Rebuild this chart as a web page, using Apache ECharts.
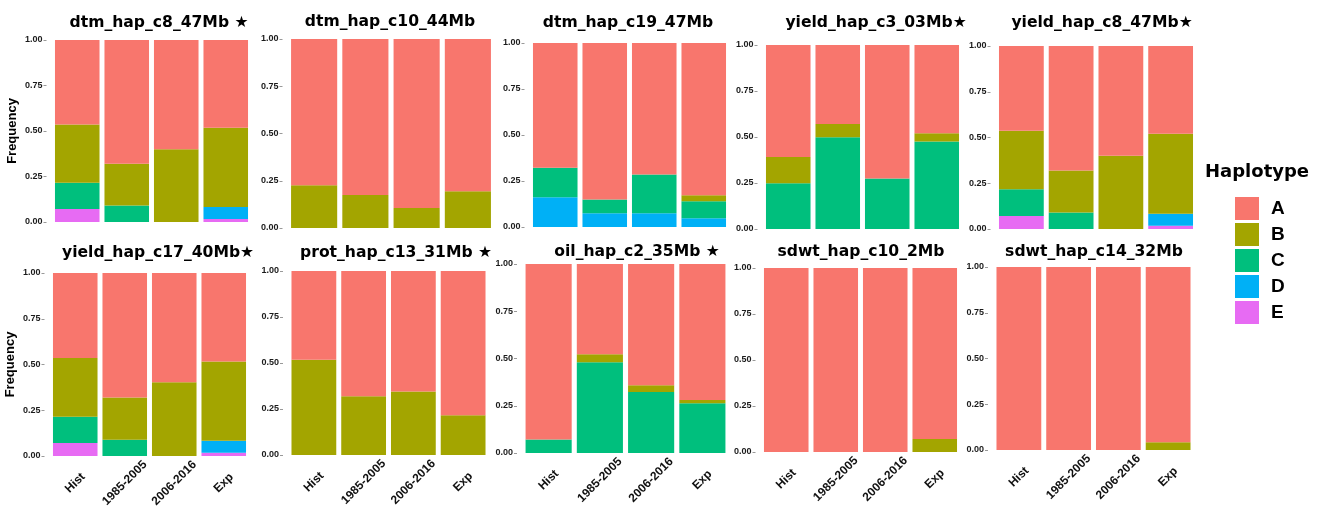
<!DOCTYPE html>
<html>
<head>
<meta charset="utf-8">
<script src="https://cdn.jsdelivr.net/npm/echarts@6/dist/echarts.min.js"></script>
<style>
  html, body { margin: 0; padding: 0; background: #fff; }
  #chart { width: 1322px; height: 513px; }
</style>
</head>
<body>
<div id="chart"></div>
<script>
const categories = ['Hist', '1985-2005', '2006-2016', 'Exp'];
const haplotypes = ['A', 'B', 'C', 'D', 'E'];
const hapColors = ['#F8766D', '#A3A500', '#00BF7D', '#00B0F6', '#E76BF3'];
const yTicks = [0, 0.25, 0.5, 0.75, 1];

const titles = [
    'dtm_hap_c8_47Mb ★', 'dtm_hap_c10_44Mb', 'dtm_hap_c19_47Mb', 'yield_hap_c3_03Mb★', 'yield_hap_c8_47Mb★',
    'yield_hap_c17_40Mb★', 'prot_hap_c13_31Mb ★', 'oil_hap_c2_35Mb ★', 'sdwt_hap_c10_2Mb', 'sdwt_hap_c14_32Mb'
];

// haplotype frequencies per panel (Hist, 1985-2005, 2006-2016, Exp)
const dtmC8 = {
    A: [0.464, 0.68, 0.60, 0.482], B: [0.32, 0.23, 0.40, 0.435], C: [0.145, 0.09, 0, 0],
    D: [0, 0, 0, 0.066], E: [0.071, 0, 0, 0.017]
};
const dtmC10 = {
    A: [0.774, 0.825, 0.894, 0.806], B: [0.226, 0.175, 0.106, 0.194], C: [0, 0, 0, 0],
    D: [0, 0, 0, 0], E: [0, 0, 0, 0]
};
const dtmC19 = {
    A: [0.678, 0.851, 0.715, 0.827], B: [0, 0, 0, 0.033], C: [0.16, 0.074, 0.21, 0.093],
    D: [0.162, 0.075, 0.075, 0.047], E: [0, 0, 0, 0]
};
const yieldC3 = {
    A: [0.609, 0.429, 0.725, 0.48], B: [0.142, 0.073, 0, 0.044], C: [0.249, 0.498, 0.275, 0.476],
    D: [0, 0, 0, 0], E: [0, 0, 0, 0]
};
const yieldC8 = {
    A: [0.463, 0.68, 0.60, 0.48], B: [0.32, 0.23, 0.40, 0.436], C: [0.146, 0.09, 0, 0],
    D: [0, 0, 0, 0.066], E: [0.071, 0, 0, 0.018]
};
const yieldC17 = {
    A: [0.465, 0.681, 0.597, 0.484], B: [0.32, 0.23, 0.403, 0.432], C: [0.144, 0.089, 0, 0],
    D: [0, 0, 0, 0.066], E: [0.071, 0, 0, 0.018]
};
const protC13 = {
    A: [0.483, 0.681, 0.655, 0.784], B: [0.517, 0.319, 0.345, 0.216], C: [0, 0, 0, 0],
    D: [0, 0, 0, 0], E: [0, 0, 0, 0]
};
const oilC2 = {
    A: [0.929, 0.478, 0.642, 0.72], B: [0, 0.042, 0.035, 0.017], C: [0.071, 0.48, 0.323, 0.263],
    D: [0, 0, 0, 0], E: [0, 0, 0, 0]
};
const sdwtC10 = {
    A: [1, 1, 1, 0.929], B: [0, 0, 0, 0.071], C: [0, 0, 0, 0],
    D: [0, 0, 0, 0], E: [0, 0, 0, 0]
};
const sdwtC14 = {
    A: [1, 1, 1, 0.958], B: [0, 0, 0, 0.042], C: [0, 0, 0, 0],
    D: [0, 0, 0, 0], E: [0, 0, 0, 0]
};
const panels = [dtmC8, dtmC10, dtmC19, yieldC3, yieldC8, yieldC17, protC13, oilC2, sdwtC10, sdwtC14];

// plot rectangles [left, top, width, height] and title centres
const rects = [
    [52.5, 40, 198, 182], [288.5, 39, 205, 189], [530.5, 43, 198, 184], [763.5, 45, 198, 184], [996.5, 46, 199, 183],
    [50.5, 273, 198, 183], [289, 271, 199, 184], [523, 264, 205, 189], [761.5, 268, 198, 184], [994, 267, 199, 183]
];
const titlePos = [
    [159, 23], [390, 22], [628, 23], [876, 23], [1102, 23],
    [158, 253], [396, 253], [637, 252], [861, 252], [1094, 252]
];

document.addEventListener('DOMContentLoaded', function() {
    const myChart = echarts.init(document.getElementById('chart'));

    const grid = [], xAxis = [], yAxis = [], series = [], graphic = [];
    panels.forEach(function(panel, p) {
        const r = rects[p];
        const bottomRow = p >= 5;
        grid.push({ left: r[0], top: r[1], width: r[2], height: r[3], containLabel: false });
        xAxis.push({
            type: 'category',
            gridIndex: p,
            data: categories,
            axisLine: { show: false },
            axisTick: { show: false },
            axisLabel: {
                show: bottomRow,
                interval: 0,
                rotate: 45,
                align: 'center',
                verticalAlign: 'middle',
                margin: 27,
                fontFamily: 'Liberation Sans',
                fontWeight: 'bold',
                fontSize: 12,
                color: '#111'
            }
        });
        yAxis.push({
            type: 'value',
            gridIndex: p,
            min: yTicks[0],
            max: yTicks[yTicks.length - 1],
            interval: 0.25,
            offset: 6,
            name: (p === 0 || p === 5) ? 'Frequency' : '',
            nameLocation: 'middle',
            nameRotate: 90,
            nameGap: 28,
            nameTextStyle: { fontFamily: 'Liberation Sans', fontWeight: 'bold', fontSize: 13, color: '#000' },
            axisLine: { show: false },
            axisTick: { show: true, length: 3, lineStyle: { color: '#999' } },
            splitLine: { show: false },
            axisLabel: {
                margin: 4,
                formatter: function(v) { return v.toFixed(2); },
                fontFamily: 'Liberation Sans',
                fontWeight: 'bold',
                fontSize: 9,
                color: '#1a1a1a'
            }
        });
        // stack bottom to top: E, D, C, B, A
        for (let h = haplotypes.length - 1; h >= 0; h--) {
            const name = haplotypes[h];
            series.push({
                type: 'bar',
                name: name,
                xAxisIndex: p,
                yAxisIndex: p,
                stack: 'panel' + p,
                barCategoryGap: '10%',
                data: panel[name],
                itemStyle: { color: hapColors[h] }
            });
        }
        graphic.push({
            type: 'text',
            x: titlePos[p][0],
            y: titlePos[p][1],
            style: {
                text: titles[p],
                align: 'center',
                verticalAlign: 'middle',
                font: 'bold 15.6px "DejaVu Sans"',
                fill: '#000'
            }
        });
    });

    graphic.push({
        type: 'text',
        x: 1205,
        y: 172,
        style: {
            text: 'Haplotype',
            align: 'left',
            verticalAlign: 'middle',
            font: 'bold 18px "DejaVu Sans"',
            fill: '#000'
        }
    });

    const option = {
        animation: false,
        color: hapColors,
        grid: grid,
        xAxis: xAxis,
        yAxis: yAxis,
        series: series,
        graphic: graphic,
        legend: {
            data: haplotypes,
            orient: 'vertical',
            left: 1230,
            top: 192,
            itemWidth: 24,
            itemHeight: 23,
            itemGap: 3,
            icon: 'rect',
            selectedMode: false,
            textStyle: {
                fontFamily: 'Liberation Sans',
                fontWeight: 'bold',
                fontSize: 19,
                color: '#000',
                padding: [0, 0, 0, 7]
            }
        }
    };

    myChart.setOption(option);
});
</script>
</body>
</html>
